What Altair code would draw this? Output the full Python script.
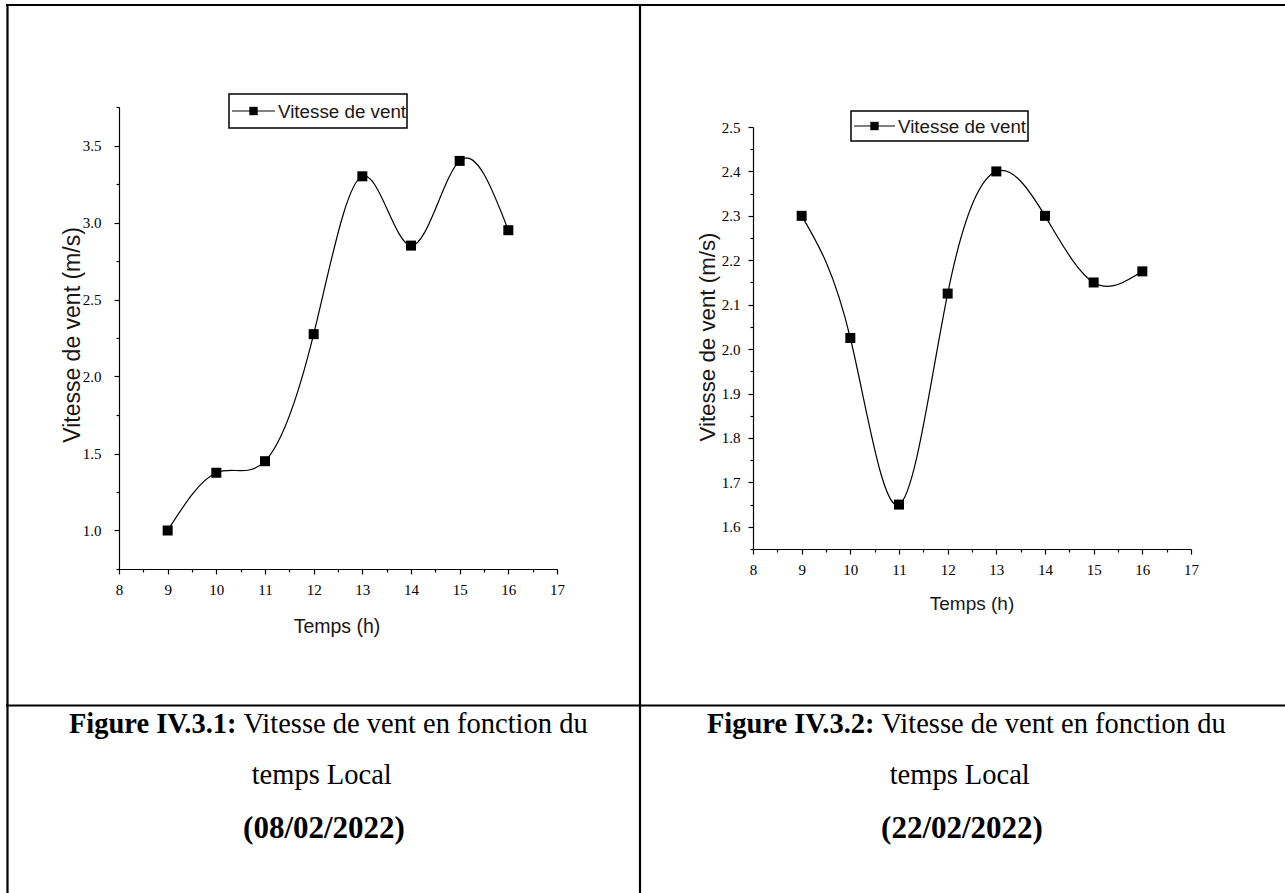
import altair as alt
import pandas as pd

# Hourly wind speed, two measurement days
hours = [9, 10, 11, 12, 13, 14, 15, 16]
speed_0802 = [1.0, 1.375, 1.45, 2.275, 3.3, 2.85, 3.4, 2.95]
speed_2202 = [2.3, 2.025, 1.65, 2.125, 2.4, 2.3, 2.15, 2.175]

x_ticks = [8 + 0.5 * i for i in range(19)]
y_ticks_left = [0.75 + 0.25 * i for i in range(13)]
y_ticks_right = [round(1.55 + 0.05 * i, 2) for i in range(20)]

legend_label = "Vitesse de vent"
x_title = "Temps (h)"
y_title = "Vitesse de vent (m/s)"
caption_bold = ["Figure IV.3.1:", "Figure IV.3.2:"]
caption_text = "Vitesse de vent en fonction du"
caption_line2 = "temps Local"
caption_dates = ["(08/02/2022)", "(22/02/2022)"]

SERIF = "Liberation Serif, Times New Roman, serif"
SANS = "Liberation Sans, Arial, sans-serif"
INK = "#1a1614"

W, H = 1285, 893


def axis(orient, offset, values, major_test, fmt, tick_major, tick_minor, pad):
    return alt.Axis(
        orient=orient,
        offset=offset,
        values=values,
        title=None,
        grid=False,
        domainColor="black",
        domainWidth=1.2,
        tickColor="black",
        tickWidth=1.2,
        tickSize={"condition": {"test": major_test, "value": tick_major}, "value": tick_minor},
        labelExpr=f"({major_test}) ? format(datum.value, '{fmt}') : ''",
        labelFont=SERIF,
        labelFontSize=15,
        labelColor="black",
        labelPadding=pad,
        labelOverlap=False,
        labelFlush=False,
        labelBound=False,
    )


def panel(values, xr, yd, yr, y_ticks, y_major, y_pad):
    df = pd.DataFrame({"t": hours, "v": values})
    x_axis_y = yr[0]
    return (
        alt.Chart(df)
        .mark_line(
            interpolate="natural",
            color="black",
            strokeWidth=1.2,
            point=alt.OverlayMarkDef(shape="square", filled=True, color="black", size=100, opacity=1),
        )
        .encode(
            x=alt.X(
                "t:Q",
                scale=alt.Scale(domain=[8, 17], range=xr, nice=False, zero=False),
                axis=axis("bottom", x_axis_y - H, x_ticks, "datum.value % 1 === 0", "d", 5, 3, 8),
            ),
            y=alt.Y(
                "v:Q",
                scale=alt.Scale(domain=yd, range=yr, nice=False, zero=False),
                axis=axis("left", -xr[0], y_ticks, y_major, ".1f", 5, 3, y_pad),
            ),
        )
    )


def text(s, x, y, size, font=SERIF, weight="normal", align="center", baseline="alphabetic", angle=0, color="black"):
    return (
        alt.Chart(pd.DataFrame({"s": [s]}))
        .mark_text(
            font=font, fontSize=size, fontWeight=weight, align=align,
            baseline=baseline, angle=angle, color=color,
        )
        .encode(text="s:N", x=alt.value(x), y=alt.value(y))
    )


def rule(x1, y1, x2, y2, width=2.2):
    return (
        alt.Chart(pd.DataFrame({"k": [0]}))
        .mark_rule(color="black", strokeWidth=width)
        .encode(x=alt.value(x1), x2=alt.value(x2), y=alt.value(y1), y2=alt.value(y2))
    )


def legend(x0, x1, y0, y1, text_x):
    ym = (y0 + y1) / 2
    box = (
        alt.Chart(pd.DataFrame({"k": [0]}))
        .mark_rect(fill="white", stroke="black", strokeWidth=1.5)
        .encode(x=alt.value(x0), x2=alt.value(x1), y=alt.value(y0), y2=alt.value(y1))
    )
    line = rule(x0 + 3, ym, text_x - 3, ym, width=1.2)
    mark = (
        alt.Chart(pd.DataFrame({"k": [0]}))
        .mark_point(shape="square", filled=True, color="black", size=70, opacity=1)
        .encode(x=alt.value((x0 + 3 + text_x - 3) / 2), y=alt.value(ym))
    )
    label = text(legend_label, text_x, ym + 1, 18.8, font=SANS, align="left", baseline="middle", color=INK)
    return [box, line, mark, label]


left = panel(speed_0802, [119, 557], [0.75, 3.75], [569, 107], y_ticks_left,
             "abs(datum.value * 2 - round(datum.value * 2)) < 1e-6", 13)
right = panel(speed_2202, [753, 1191], [1.55, 2.5], [549, 127], y_ticks_right,
              "abs(datum.value * 10 - round(datum.value * 10)) < 1e-6", 8)

decor = [
    # table frame
    rule(6, 5, W, 5),
    rule(7.5, 4, 7.5, H),
    rule(640, 4, 640, H),
    rule(6, 705.5, W, 705.5),
    # axis titles
    text(x_title, 337, 627, 19.5, font=SANS, baseline="middle", color=INK),
    text(y_title, 73, 335, 23, font=SANS, baseline="middle", angle=270, color=INK),
    text(x_title, 972, 604, 19, font=SANS, baseline="middle", color=INK),
    text(y_title, 708, 337, 22.3, font=SANS, baseline="middle", angle=270, color=INK),
]
decor += legend(229, 407, 94, 128, 278)
decor += legend(851, 1028, 111, 141, 898)

# captions under each figure
for i, dx in enumerate([0, 638]):
    decor += [
        text(caption_bold[i], 236.5 + dx, 733, 28.5, weight="bold", align="right"),
        text(caption_text, 243.5 + dx, 733, 28.5, align="left"),
        text(caption_line2, 321.7 + dx, 783.5, 28.5),
        text(caption_dates[i], 324 + dx, 838, 31, weight="bold"),
    ]

chart = (
    alt.layer(left, right, *decor)
    .resolve_scale(x="independent", y="independent")
    .resolve_axis(x="independent", y="independent")
    .properties(width=W, height=H, autosize=alt.AutoSizeParams(type="none"), padding=0, background="white")
    .configure_view(stroke=None)
)

chart.save("out.html", embed_options={"renderer": "svg", "actions": False})
